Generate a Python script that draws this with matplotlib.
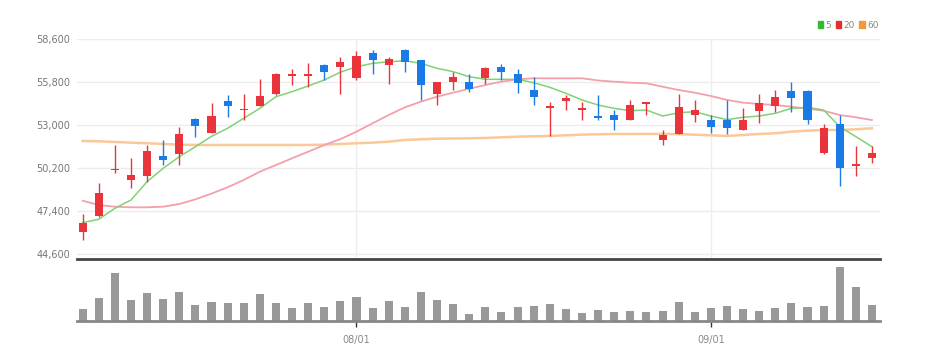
import numpy as np
import pandas as pd
import matplotlib
matplotlib.use('Agg')
import matplotlib.pyplot as plt
from matplotlib.patches import Patch

# ---- data ----
dates = pd.bdate_range('2023-07-07', '2023-09-15')
dates = dates[dates != pd.Timestamp('2023-08-15')]  # holiday

opens = [46000, 47050, 50050, 49400, 49700, 51000, 51100, 53400, 52500, 54550,
         53950, 54250, 55000, 56200, 56200, 56900, 56800, 56050, 57700, 56900,
         57900, 57200, 55050, 55800, 55800, 56050, 56750, 56350, 55300, 54100,
         54550, 54000, 53550, 53650, 53300, 54400, 52000, 52400, 53650, 53300,
         53300, 52650, 53900, 54250, 55200, 55200, 51200, 53050, 50350, 50850]
closes = [46650, 48550, 50150, 49750, 51300, 50700, 52400, 52950, 53600, 54250,
          54050, 54900, 56300, 56300, 56300, 56450, 57100, 57500, 57250, 57300,
          57100, 55600, 55800, 56100, 55350, 56700, 56450, 55750, 54850, 54200,
          54750, 54100, 53450, 53350, 54300, 54500, 52350, 54200, 53950, 52850,
          52800, 53300, 54450, 54800, 54750, 53350, 52800, 50200, 50450, 51200]
highs = [47200, 49250, 51700, 50850, 51700, 52000, 52900, 53450, 54400, 54950,
         55000, 56000, 56400, 56650, 57050, 57000, 57400, 57850, 57900, 57400,
         57950, 57200, 55800, 56450, 56350, 56750, 56950, 56650, 56150, 54500,
         54950, 54500, 54950, 53950, 54650, 54500, 52700, 55000, 54600, 53650,
         54600, 54100, 55000, 55250, 55800, 55250, 53050, 53650, 51650, 51600]
lows = [45500, 47000, 49850, 48900, 49300, 50400, 50400, 52250, 52500, 53500,
        53300, 54250, 54950, 55600, 55450, 55950, 55000, 55950, 56300, 55650,
        56450, 54600, 54300, 55300, 55150, 55650, 55950, 55100, 54300, 52300,
        53950, 53350, 53300, 52700, 53300, 53650, 51700, 52400, 53200, 52450,
        52400, 52650, 53150, 53850, 53850, 53050, 51100, 49050, 49700, 50500]

ma5 = [46640, 46860, 47575, 48115, 49310, 50180, 50935, 51585, 52260, 52785,
       53435, 54085, 54840, 55170, 55540, 55930, 56440, 56795, 57015, 57120,
       57185, 57015, 56690, 56470, 56145, 55975, 55975, 55975, 55755, 55455,
       55065, 54630, 54300, 54085, 53930, 53975, 53585, 53800, 53865, 53585,
       53350, 53500, 53585, 53760, 54085, 54150, 53975, 52890, 52240, 51585]
ma20 = [48070, 47790, 47680, 47640, 47640, 47680, 47855, 48160, 48530, 48945,
        49420, 49960, 50395, 50830, 51260, 51695, 52080, 52565, 53110, 53650,
        54150, 54520, 54845, 55105, 55360, 55605, 55820, 55975, 56040, 56040,
        56040, 56040, 55900, 55820, 55755, 55715, 55495, 55280, 55105, 54890,
        54630, 54455, 54370, 54300, 54190, 54060, 53930, 53650, 53500, 53325]
ma60 = [51960, 51940, 51895, 51850, 51810, 51765, 51720, 51700, 51700, 51700,
        51700, 51700, 51700, 51700, 51700, 51720, 51765, 51810, 51850, 51915,
        52025, 52070, 52110, 52120, 52135, 52155, 52200, 52240, 52265, 52285,
        52330, 52375, 52395, 52415, 52415, 52420, 52420, 52400, 52370, 52330,
        52285, 52350, 52415, 52460, 52565, 52630, 52675, 52675, 52720, 52785]

# volume in thousand shares
volume = [120, 233, 477, 210, 283, 223, 290, 160, 187, 177,
          177, 267, 177, 127, 177, 137, 203, 243, 127, 203,
          137, 290, 210, 170, 70, 143, 87, 137, 153, 170,
          123, 77, 110, 87, 103, 93, 103, 190, 87, 127,
          153, 123, 103, 127, 183, 143, 153, 537, 340, 157]

y_ticks = [44600, 47400, 50200, 53000, 55800, 58600]

# ---- style ----
RED = '#e8343a'
BLUE = '#1b7be6'
font = ['Liberation Sans Narrow', 'DejaVu Sans']
plt.rcParams['font.family'] = font

opens = np.array(opens); closes = np.array(closes)
highs = np.array(highs); lows = np.array(lows)
x = np.arange(len(dates))
colors = np.where(closes >= opens, RED, BLUE)

fig = plt.figure(figsize=(9.29, 3.61), dpi=100)
W, H = 929, 361
ax = fig.add_axes([77 / W, 1 - 259 / H, 803 / W, 220 / H])
axv = fig.add_axes([77 / W, 1 - 321 / H, 803 / W, 59 / H], sharex=ax)

# month starts for ticks
month_start = [i for i in range(1, len(dates)) if dates[i].month != dates[i - 1].month]
month_lbl = [dates[i].strftime('%m/%d') for i in month_start]

# price panel
for yv in y_ticks:
    ax.axhline(yv, color='#ececec', lw=1, zorder=0)
for i in month_start:
    ax.axvline(i, color='#eeeeee', lw=1, zorder=0)

ax.plot(x, ma60, color='#fbc898', lw=1.8, zorder=2)
ax.plot(x, ma20, color='#f4a0aa', lw=1.3, zorder=2)
ax.plot(x, ma5, color='#80d274', lw=1.1, zorder=2)

ax.vlines(x, lows, highs, colors=colors, lw=1, zorder=3)
body = np.abs(closes - opens)
hgt = np.maximum(body, 110)
bot = np.minimum(opens, closes) - (hgt - body) / 2
ax.bar(x, hgt, bottom=bot, width=0.5, color=colors, zorder=4)

ax.set_ylim(44274, 58600)
ax.set_xlim(-0.35, 49.5)
ax.set_yticks(y_ticks)
ax.set_yticklabels([f'{v:,}' for v in y_ticks], color='#777777', fontsize=7)
ax.tick_params(axis='y', length=0, pad=5)
ax.tick_params(axis='x', length=0, labelbottom=False)
for s in ['top', 'right', 'left']:
    ax.spines[s].set_visible(False)
ax.spines['bottom'].set_color('#444444')
ax.spines['bottom'].set_linewidth(2)

# volume panel
axv.bar(x, volume, width=0.5, color='#999999', zorder=2)
axv.set_ylim(0, 590)
axv.set_yticks([])
for s in ['top', 'right', 'left']:
    axv.spines[s].set_visible(False)
axv.spines['bottom'].set_color('#888888')
axv.spines['bottom'].set_linewidth(2)
axv.set_xticks(month_start)
axv.set_xticklabels(month_lbl, color='#888888', fontsize=7)
axv.tick_params(axis='x', length=4, width=1, color='#333333', pad=6)

# legend
handles = [Patch(color='#33bb33', label='5'),
           Patch(color='#e03030', label='20'),
           Patch(color='#f29a3a', label='60')]
leg = fig.legend(handles=handles, loc='upper right', bbox_to_anchor=(883 / W, 1 - 16 / H),
                 ncol=3, frameon=False, fontsize=6.5, handlelength=0.6, handleheight=0.9,
                 handletextpad=0.25, columnspacing=0.5, borderpad=0)
for t in leg.get_texts():
    t.set_color('#888888')

fig.savefig('out.png', dpi=100)
